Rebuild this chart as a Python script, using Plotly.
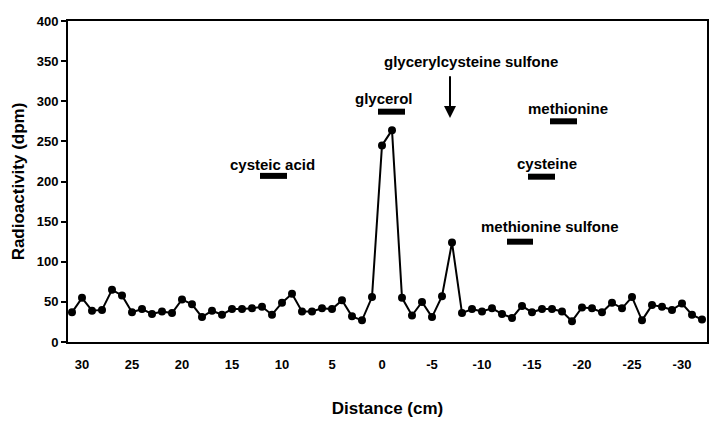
import plotly.graph_objects as go

# Distance along the chromatogram (cm), 1-cm fractions
distance_cm = [31 - i for i in range(64)]
# Radioactivity (dpm)
radioactivity = [37, 55, 39, 40, 65, 58, 37, 41, 35, 38, 36, 53, 47, 31, 39, 34,
                 41, 41, 42, 44, 34, 49, 60, 38, 38, 42, 41, 52, 32, 27, 56, 245,
                 264, 55, 33, 50, 31, 57, 124, 36, 41, 38, 42, 35, 30, 45, 37, 41,
                 41, 38, 26, 43, 42, 37, 49, 42, 56, 27, 46, 44, 40, 48, 34, 28]

# Standards: name, bar start / end (cm), bar level (dpm), label centre (cm), label level (dpm)
std_names = ["cysteic acid", "glycerol", "methionine", "cysteine", "methionine sulfone"]
std_start = [12.2, 0.4, -16.8, -14.6, -12.5]
std_end = [9.5, -2.3, -19.5, -17.3, -15.1]
std_level = [207, 287, 275, 206, 125]
label_x = [11.0, -0.2, -18.6, -16.5, -16.8]
label_level = [221, 303, 291, 223, 144]

arrow_name = "glycerylcysteine sulfone"
arrow_x = -6.8
arrow_top = 333
arrow_tip = 279
arrow_label_x = -8.9
arrow_label_level = 349

x_ticks = [30, 25, 20, 15, 10, 5, 0, -5, -10, -15, -20, -25, -30]
y_ticks = [0, 50, 100, 150, 200, 250, 300, 350, 400]

fig = go.Figure()
fig.add_trace(go.Scatter(
    x=distance_cm, y=radioactivity, mode="lines+markers",
    line=dict(color="black", width=2),
    marker=dict(color="black", size=8),
    showlegend=False,
))

bold = "Liberation Sans"
for n, s, e, lv, lx, ll in zip(std_names, std_start, std_end, std_level, label_x, label_level):
    fig.add_shape(type="line", x0=s, x1=e, y0=lv, y1=lv, xref="x", yref="y",
                  line=dict(color="black", width=6))
    fig.add_annotation(x=lx, y=ll, text="<b>%s</b>" % n, showarrow=False,
                       xref="x", yref="y",
                       font=dict(family=bold, size=15, color="black"))

fig.add_annotation(x=arrow_x, y=arrow_tip, ax=arrow_x, ay=arrow_top,
                   xref="x", yref="y", axref="x", ayref="y",
                   showarrow=True, arrowhead=2, arrowsize=1.2, arrowwidth=2,
                   arrowcolor="black", text="")
fig.add_annotation(x=arrow_label_x, y=arrow_label_level, text="<b>%s</b>" % arrow_name,
                   showarrow=False, xref="x", yref="y",
                   font=dict(family=bold, size=15, color="black"))

# The page body adds an 8 px margin, so the figure is sized to fit inside it
fig.update_layout(
    width=716, height=421,
    margin=dict(l=60, r=17, t=13, b=87),
    paper_bgcolor="white", plot_bgcolor="white",
    font=dict(family=bold, color="black"),
)
fig.update_xaxes(
    range=[31.4, -32.5], tickvals=x_ticks, automargin=False,
    ticktext=["<b>%d</b>" % t for t in x_ticks],
    ticks="", showgrid=False, zeroline=False,
    showline=True, linecolor="black", linewidth=2, mirror=True,
    tickfont=dict(family="Liberation Sans Narrow, Liberation Sans", size=13),
    ticklabelstandoff=9,
    title=dict(text="<b>Distance (cm)</b>", standoff=32,
               font=dict(family="Liberation Sans Narrow, Liberation Sans", size=17)),
)
fig.update_yaxes(
    range=[0, 400], tickvals=y_ticks, automargin=False,
    ticktext=["<b>%d</b>" % t for t in y_ticks],
    ticks="outside", ticklen=5, tickwidth=1.5, tickcolor="black",
    showgrid=False, zeroline=False,
    showline=True, linecolor="black", linewidth=2, mirror=True,
    tickfont=dict(family=bold, size=13),
    title=dict(text="<b>Radioactivity (dpm)</b>", standoff=8,
               font=dict(family=bold, size=17)),
)

fig.write_html("out.html")
